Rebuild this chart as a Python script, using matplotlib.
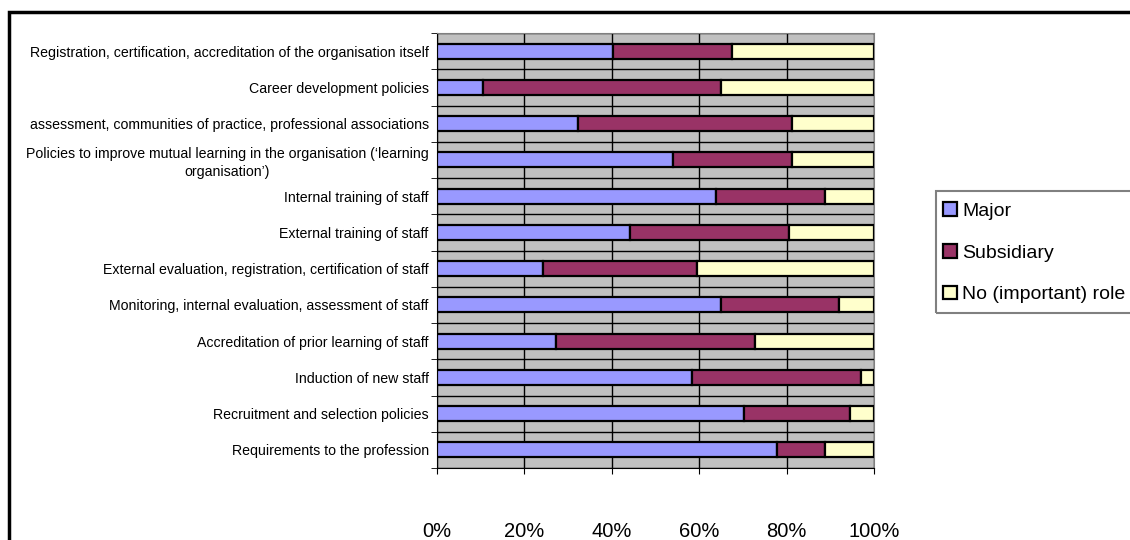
import matplotlib.pyplot as plt
import matplotlib.patches as patches
import numpy as np

plt.rcParams['font.family'] = ['Liberation Sans', 'DejaVu Sans']

# top to bottom, as in the chart
categories = [
    "Registration, certification, accreditation of the organisation itself",
    "Career development policies",
    "assessment, communities of practice, professional associations",
    "Policies to improve mutual learning in the organisation (\u2018learning\norganisation\u2019)",
    "Internal training of staff",
    "External training of staff",
    "External evaluation, registration, certification of staff",
    "Monitoring, internal evaluation, assessment of staff",
    "Accreditation of prior learning of staff",
    "Induction of new staff",
    "Recruitment and selection policies",
    "Requirements to the profession",
]
major = [40.3, 10.5, 32.2, 53.9, 63.8, 44.2, 24.2, 65.1, 27.2, 58.3, 70.2, 77.8]
subsidiary = [27.3, 54.6, 49.0, 27.3, 25.1, 36.3, 35.3, 26.8, 45.5, 38.7, 24.2, 11.1]
no_role = [32.4, 34.9, 18.8, 18.8, 11.1, 19.5, 40.5, 8.1, 27.3, 3.0, 5.6, 11.1]
series_names = ["Major", "Subsidiary", "No (important) role"]
colors = ["#9999FF", "#993366", "#FFFFCC"]
xticks = [0, 20, 40, 60, 80, 100]

fig = plt.figure(figsize=(11.3, 5.4), dpi=100)
ax = fig.add_axes([437 / 1130, 72 / 540, 437 / 1130, 435 / 540])
ax.set_facecolor("#C0C0C0")

y = np.arange(len(categories))
left = np.zeros(len(categories))
for vals, name, c in zip([major, subsidiary, no_role], series_names, colors):
    vals = np.array(vals)
    ax.barh(y, vals, left=left, height=0.42, color=c, edgecolor="black",
            linewidth=1.6, label=name, zorder=3)
    left += vals

ax.set_xlim(0, 100)
ax.set_ylim(len(categories) - 0.5, -0.5)
ax.set_xticks(xticks)
ax.set_xticklabels([f"{t}%" for t in xticks], fontsize=14.5)
ax.tick_params(axis="x", length=4, pad=35, color="black")
ax.set_yticks(y)
ax.set_yticklabels(categories, fontsize=10.2, multialignment="center",
                   linespacing=1.35)
ax.tick_params(axis="y", length=0, pad=6)
ax.set_yticks(np.arange(len(categories) + 1) - 0.5, minor=True)
ax.tick_params(axis="y", which="minor", length=4, color="black")
ax.grid(axis="x", which="major", color="black", linewidth=1, zorder=1)
ax.grid(axis="y", which="minor", color="black", linewidth=1, zorder=1)
ax.set_axisbelow(True)
for s in ["top", "right"]:
    ax.spines[s].set_color("#808080")
for s in ["left", "bottom"]:
    ax.spines[s].set_color("black")

# legend without its own frame; the box is drawn separately (it runs off the edge)
leg = fig.legend(loc="upper left", bbox_to_anchor=(943 / 1130, 1 - 202 / 540),
                 fontsize=14, frameon=False, borderaxespad=0, borderpad=0,
                 handlelength=0.7, handleheight=0.7, handletextpad=0.3,
                 labelspacing=1.25)
fig.patches.append(patches.Rectangle((936 / 1130, 1 - 313 / 540), 0.3, 122 / 540,
                                     transform=fig.transFigure, fill=False,
                                     edgecolor="#808080", linewidth=1.5))

fig.patches.append(patches.Rectangle((9 / 1130, -0.1), 1.2, 1 - 12 / 540 + 0.1,
                                     transform=fig.transFigure, fill=False,
                                     edgecolor="black", linewidth=2.5))

fig.savefig("out.png", dpi=100)
